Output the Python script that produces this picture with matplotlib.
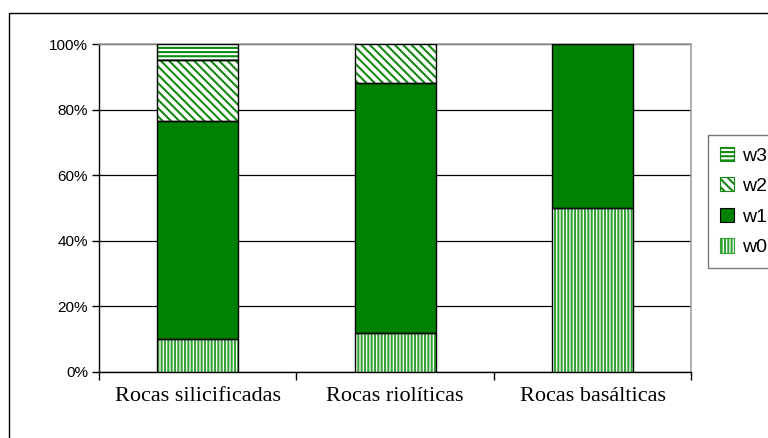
import matplotlib
matplotlib.use("Agg")
import matplotlib.pyplot as plt
from matplotlib.patches import Patch, Rectangle
import numpy as np

categories = ["Rocas silicificadas", "Rocas riolíticas", "Rocas basálticas"]
series_names = ["w0", "w1", "w2", "w3"]
w0 = [10.0, 12.0, 50.0]
w1 = [66.5, 76.0, 50.0]
w2 = [18.5, 12.0, 0.0]
w3 = [5.0, 0.0, 0.0]
y_ticks = [0, 20, 40, 60, 80, 100]

GREEN = "#008000"
styles = {
    "w0": dict(facecolor="white", hatch="|||||", hatchcolor="#33a333"),
    "w1": dict(facecolor=GREEN, hatch=None, hatchcolor=GREEN),
    "w2": dict(facecolor="white", hatch="\\\\\\\\", hatchcolor="#118a11"),
    "w3": dict(facecolor="white", hatch="----", hatchcolor="#118a11"),
}

plt.rcParams["hatch.linewidth"] = 1.5

fig = plt.figure(figsize=(7.68, 4.38), dpi=100)
ax = fig.add_axes([0.129, 0.1507, 0.771, 0.7488])

x = np.arange(len(categories))
width = 0.41
bottom = np.zeros(len(categories))
for name, vals in zip(series_names, [w0, w1, w2, w3]):
    vals = np.array(vals)
    st = styles[name]
    # hatched fill (hatch colour follows the edge colour)
    ax.bar(x, vals, width, bottom=bottom, color=st["facecolor"],
           edgecolor=st["hatchcolor"], hatch=st["hatch"],
           linewidth=0, zorder=3)
    # black outline on top
    mask = vals > 0
    ax.bar(x[mask], vals[mask], width, bottom=bottom[mask], fill=False,
           edgecolor="black", linewidth=1.0, zorder=4)
    bottom += vals

ax.set_xlim(-0.5, 2.5)
ax.set_ylim(0, 100)
ax.set_yticks(y_ticks)
ax.set_yticklabels([f"{v}%" for v in y_ticks], family="Liberation Sans", fontsize=11)
ax.set_xticks(x)
ax.set_xticklabels(categories, family="Liberation Serif", fontsize=16)
ax.tick_params(axis="x", which="major", length=0, pad=11)
ax.set_xticks([-0.5, 0.5, 1.5, 2.5], minor=True)
ax.tick_params(axis="x", which="minor", length=6, width=1, direction="out")
ax.tick_params(axis="y", length=5, width=1, direction="out", pad=3)

ax.grid(axis="y", color="black", linewidth=0.9, zorder=0)
ax.set_axisbelow(True)
for side in ["top", "right"]:
    ax.spines[side].set_color("#a0a0a0")
    ax.spines[side].set_linewidth(1.2)
for side in ["left", "bottom"]:
    ax.spines[side].set_color("black")
    ax.spines[side].set_linewidth(1.0)

handles = []
for name in reversed(series_names):
    st = styles[name]
    handles.append(Patch(facecolor=st["facecolor"],
                         edgecolor=st["hatchcolor"] if st["hatch"] else "black",
                         hatch=st["hatch"], linewidth=0.8))
leg = fig.legend(handles, list(reversed(series_names)), loc="upper left",
                 bbox_to_anchor=(708 / 768, 1 - 135 / 438), borderaxespad=0,
                 frameon=True, fancybox=False, edgecolor="#555555",
                 prop={"family": "Liberation Sans", "size": 14},
                 handlelength=0.75, handleheight=0.75, handletextpad=0.4,
                 labelspacing=0.65, borderpad=0.6)
leg.get_frame().set_linewidth(1.0)

# outer chart frame
fig.patches.append(Rectangle((9 / 768, -0.1), 1.2, 1 - 13 / 438 + 0.1,
                             transform=fig.transFigure, fill=False,
                             edgecolor="black", linewidth=1.0))

fig.savefig("out.png", dpi=100)
